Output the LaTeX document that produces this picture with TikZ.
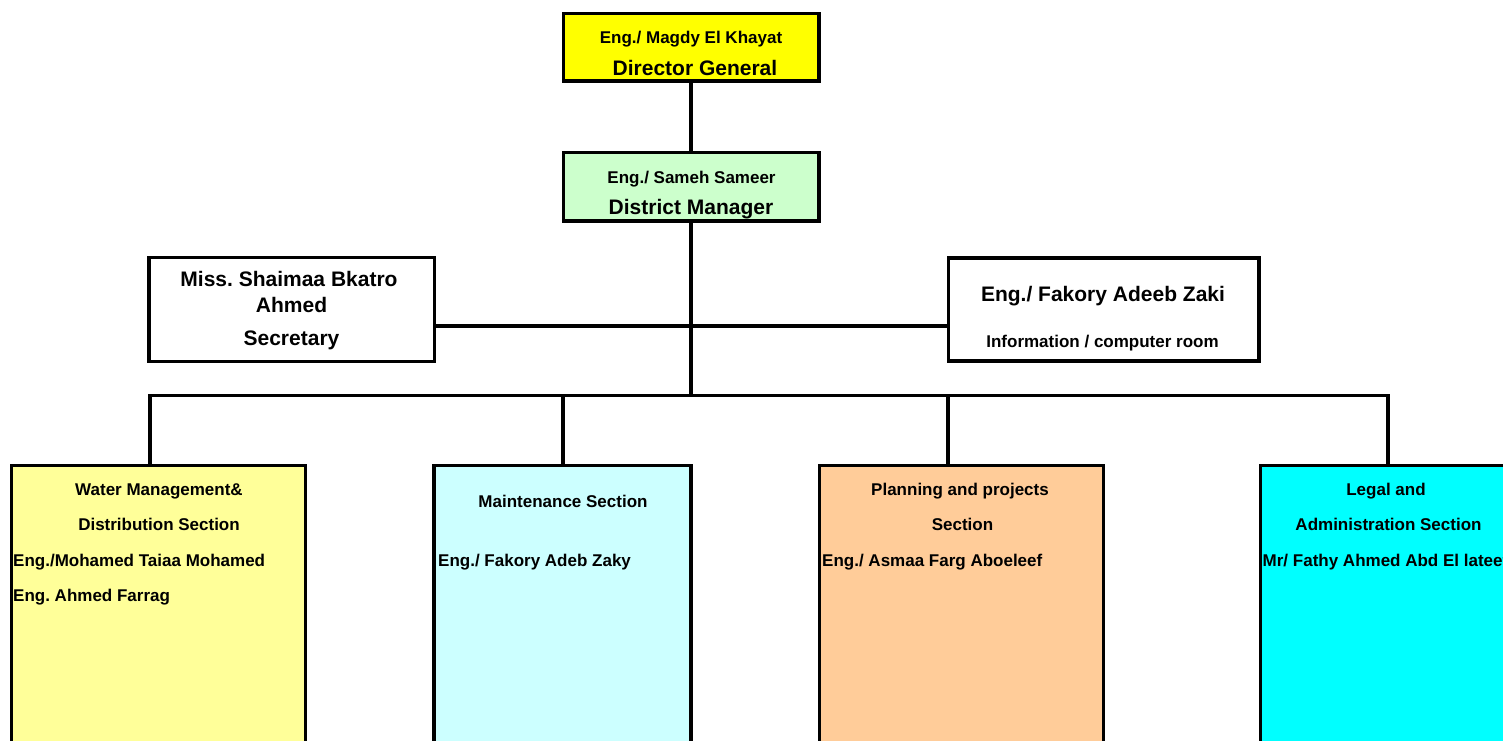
\documentclass[tikz,border=0pt]{standalone}
\usepackage{fontspec}
\setmainfont{Liberation Sans}
\frenchspacing
\definecolor{cDG}{HTML}{FFFF00}
\definecolor{cDM}{HTML}{CCFFCC}
\definecolor{cWM}{HTML}{FFFF99}
\definecolor{cMS}{HTML}{CCFFFF}
\definecolor{cPP}{HTML}{FFCC99}
\definecolor{cLA}{HTML}{00FFFF}
\begin{document}
\begin{tikzpicture}[x=1pt,y=-1pt,
  box/.style={draw=black,line width=3.3pt,rectangle,inner sep=0pt,outer sep=0pt},
  conn/.style={draw=black,line width=3.3pt},
  small/.style={inner sep=0pt,anchor=base,font=\fontsize{17}{20}\selectfont\bfseries},
  big/.style={inner sep=0pt,anchor=base,font=\fontsize{21}{25}\selectfont\bfseries},
  smallw/.style={small,anchor=base west}]
\clip (0,0) rectangle (1503,740);
\fill[white] (0,0) rectangle (1503,740);
% boxes
\node[box,fill=cDG,minimum width=255.5pt,minimum height=67.5pt] (dg) at (691.25,47.25) {};
\node[box,fill=cDM,minimum width=255.5pt,minimum height=68.5pt] (dm) at (691.25,186.75) {};
\node[box,fill=white,minimum width=285.5pt,minimum height=104pt] (sec) at (291.75,309.5) {};
\node[box,fill=white,minimum width=310.5pt,minimum height=103pt] (info) at (1103.75,309.5) {};
\node[box,fill=cWM,minimum width=294.3pt,minimum height=294.5pt] (wm) at (158.65,612.75) {};
\node[box,fill=cMS,minimum width=257pt,minimum height=294.5pt] (ms) at (562.5,612.75) {};
\node[box,fill=cPP,minimum width=284pt,minimum height=294.5pt] (pp) at (961.5,612.75) {};
\node[box,fill=cLA,minimum width=256.5pt,minimum height=294.5pt] (la) at (1388.75,612.75) {};
% connectors
\coordinate (mid) at (691,326);
\coordinate (bus) at (691,395.5);
\coordinate (d1) at (150,395.5);
\coordinate (d2) at (563,395.5);
\coordinate (d3) at (948,395.5);
\coordinate (d4) at (1388,395.5);
\draw[conn] (dg.south -| bus) -- (dm.north -| bus);
\draw[conn] (dm.south -| bus) -- (bus);
\draw[conn] (sec.east |- mid) -- (info.west |- mid);
\draw[conn,line cap=rect] (d1) -- (d4);
\draw[conn] (d1) -- (d1 |- wm.north);
\draw[conn] (d2) -- (d2 |- ms.north);
\draw[conn] (d3) -- (d3 |- pp.north);
\draw[conn] (d4) -- (d4 |- la.north);
% texts
\node[small] (t1) at (691,43) {Eng./ Magdy El Khayat};
\node[big] (t2) at (695,75) {Director General};
\node[small] (t3) at (691.5,183) {Eng./ Sameh Sameer};
\node[big] (t4) at (691,214) {District Manager};
\node[big] (t5) at (289,286) {Miss. Shaimaa Bkatro};
\node[big] (t6) at (291.5,312) {Ahmed};
\node[big] (t7) at (291.5,345) {Secretary};
\node[big] (t8) at (1103,301) {Eng./ Fakory Adeeb Zaki};
\node[small] (t9) at (1102.5,347) {Information / computer room};
\node[small] (t10) at (159,495) {Water Management\&};
\node[small] (t11) at (159,530.5) {Distribution Section};
\node[smallw] (t12) at (13,566) {Eng./Mohamed Taiaa Mohamed};
\node[smallw] (t13) at (13,601.5) {Eng. Ahmed Farrag};
\node[small] (t14) at (563,507) {Maintenance Section};
\node[smallw] (t15) at (438,566) {Eng./ Fakory Adeb Zaky};
\node[small] (t16) at (960,495.5) {Planning and projects};
\node[small] (t17) at (962.5,530.5) {Section};
\node[smallw] (t18) at (822,566) {Eng./ Asmaa Farg Aboeleef};
\node[small] (t19) at (1386,495) {Legal and};
\node[small] (t20) at (1388.5,530.5) {Administration Section};
\node[smallw] (t21) at (1262.5,566) {Mr/ Fathy Ahmed Abd El lateef};
\end{tikzpicture}
\end{document}
